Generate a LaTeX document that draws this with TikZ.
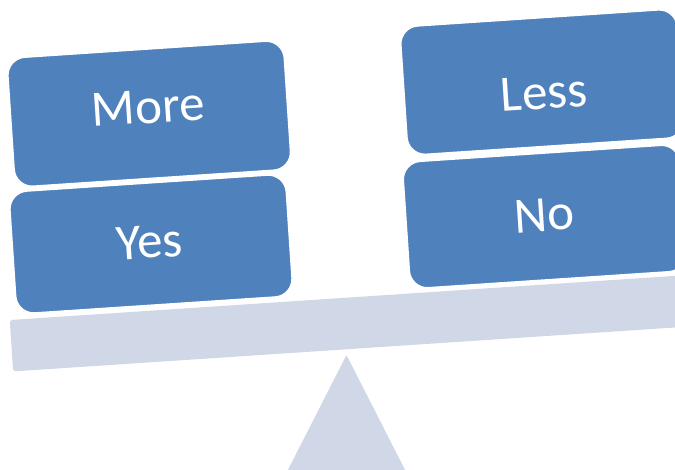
\documentclass[tikz,border=0pt]{standalone}
\usepackage{fontspec}
\setmainfont{Carlito}
\definecolor{cardblue}{HTML}{4F81BD}
\definecolor{beamgray}{HTML}{D0D8E8}
\begin{document}
\begin{tikzpicture}[x=1pt,y=1pt,
  card/.style={draw=white, line width=1.5pt, fill=cardblue, rounded corners=18pt,
               inner sep=0pt, minimum width=277pt},
  cardtext/.style={text=white, font=\fontsize{51}{61}\selectfont, inner sep=0pt},
  plank/.style={fill=beamgray, rounded corners=3pt, inner sep=0pt},
]
\clip (0,0) rectangle (675,-469);
\fill[white] (0,0) rectangle (675,-469);

% fulcrum
\coordinate (apex) at (346.5,-355);
\coordinate (baseL) at (282.8,-480);
\coordinate (baseR) at (410.2,-480);
\fill[beamgray, rounded corners=2pt] (baseL) -- (apex) -- (baseR) -- cycle;

% tilted beam with its loads
\begin{scope}[rotate=3.8, transform shape]
  \node[plank, minimum width=731.5pt, minimum height=51.5pt] (beam) at (354.25,-345.75) {};

  \node[card, minimum height=129.3pt] (more) at (141.35,-123.35) {};
  \node[card, minimum height=122.2pt] (yes)  at (134.5,-253.5) {};
  \node[card, minimum height=128.7pt] (less) at (535.5,-117.85) {};
  \node[card, minimum height=126.7pt] (no)   at (529,-252.15) {};

  \node[cardtext] (moretext) at (140.6,-116.6) {More};
  \node[cardtext] (yestext)  at (133.2,-251.4) {Yes};
  \node[cardtext] (lesstext) at (536.5,-128.6) {Less};
  \node[cardtext] (notext)   at (528.5,-250.6) {No};
\end{scope}
\end{tikzpicture}
\end{document}
